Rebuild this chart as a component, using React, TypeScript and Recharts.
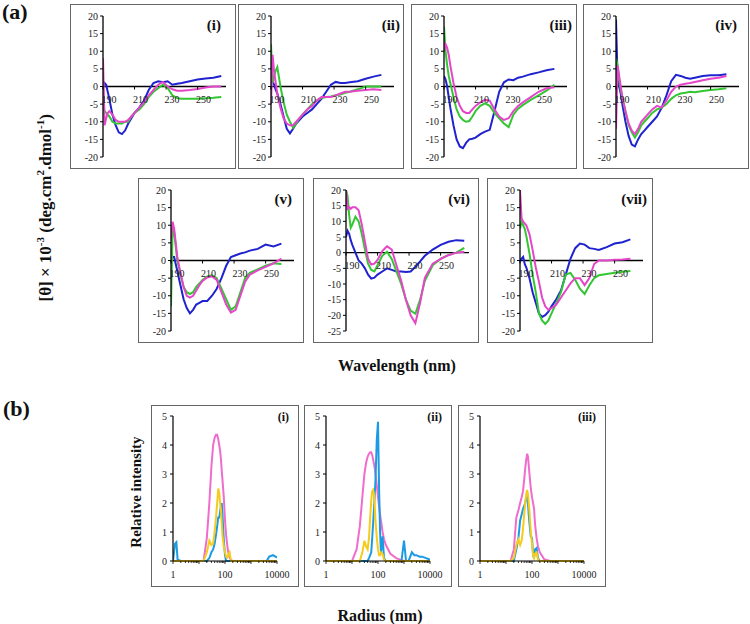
import React from 'react';
import { LineChart, Line, XAxis, YAxis, ReferenceLine } from 'recharts';

const FONT = '"Liberation Serif", "Times New Roman", serif';

// ---------- (a) CD spectra ----------
const wavelengths = [190, 191, 192, 193, 194, 196, 198, 200, 202, 204, 206, 208, 210, 213, 216, 219, 222, 225, 228, 231, 234, 237, 240, 245, 250, 255, 260, 265];
const wavelengthTicks = [190, 210, 230, 250];
const ellipticityTicks = [-20, -15, -10, -5, 0, 5, 10, 15, 20];
const ellipticityTicksDeep = [-25, -20, -15, -10, -5, 0, 5, 10, 15, 20];

const cd1Blue = [0, 1, 0.5, -1.5, -3.5, -8, -11, -13, -13.5, -12.5, -10.5, -9, -7.5, -6, -4, -1, 1, 1.5, 1.2, 1.5, 0.5, 0.8, 1, 1.5, 2, 2.3, 2.5, 3];
const cd1Green = [-4, -7, -7.5, -8, -8.5, -10, -10.5, -10.5, -10.5, -10, -10, -8.5, -7.5, -6.5, -5, -3, -1.5, -0.5, 0.5, -0.5, -2.5, -3.3, -3.5, -3.5, -3.5, -3.3, -3.2, -3];
const cd1Pink = [8, -11, -9, -7.5, -7, -8, -9.5, -10, -10, -10, -9.5, -8.5, -7.5, -6, -4.5, -2.5, -1, 0.5, 1.3, 0, -0.8, -1.2, -1.2, -1, -0.7, -0.3, 0, 0];

const cd2Blue = [2, 1.5, 0.5, -1, -2, -5, -8.5, -12, -13.3, -12, -10.5, -9.5, -8.5, -7.5, -6.5, -5, -3.5, -1.5, 0.5, 1.3, 1, 1, 1.2, 1.5, 2.2, 2.8, 3.3];
const cd2Green = [12, 1, 3, 4.5, 5.5, 0, -4.5, -8, -10, -11.7, -10.5, -9, -8, -6.5, -5, -4, -3.3, -3, -2.8, -2.5, -2.3, -1.8, -1.5, -0.8, 0, 0, 0];
const cd2Pink = [-5, 9, 4, 1, -2, -6, -9, -10.5, -11, -11, -10, -9, -8, -6.5, -5.5, -4, -3, -3, -3, -2.5, -2, -1.5, -1.5, -1.2, -1, -0.8, -1];

const cd3Blue = [3, 2, 0, -3, -6, -11, -15, -17, -17.5, -16, -15, -14.8, -14.5, -13.5, -12.8, -12.3, -7, -1.5, 1.2, 2, 1.8, 2.5, 2.8, 3.5, 4, 4.6, 5];
const cd3Green = [17, 10, 6, 3, 1, -3, -6.5, -8.5, -9.5, -10, -9.8, -8.5, -7, -5.5, -4.8, -5.5, -7.5, -9, -10.5, -11.5, -8, -6.3, -5.3, -3.8, -2.5, -1.2, 0.5];
const cd3Pink = [10, 12, 11, 9, 6, 1, -3, -5.5, -7, -7.5, -7.5, -6.5, -5.5, -4.5, -3.8, -4, -6.5, -8.5, -9.5, -9, -7, -5.5, -4.5, -3, -1.5, -0.5, -0.2];

const cd4Blue = [19, 2, 0, -2, -5, -10, -14, -16.5, -17, -15, -13.5, -12.5, -11.5, -10, -8.5, -6, -2.5, 1.5, 3.3, 3, 2.5, 2.2, 2.5, 3, 3.2, 3.2, 3.5];
const cd4Green = [8, 6, 2, -1, -3, -7, -11, -13, -14.5, -13, -11, -10, -9, -7.5, -6.5, -6, -5, -3.5, -2.5, -2, -1.8, -1.5, -1.6, -1.3, -1, -0.8, -0.5];
const cd4Pink = [-12, 6, 3, 0, -3, -7, -10.5, -12.5, -13.5, -12, -10, -9, -8, -6.5, -5.5, -6, -4, -1.5, 0, 0.5, 0.8, 1, 1.3, 1.8, 2.2, 2.5, 3];

const cd5Blue = [0, 1, 1, -1, -3, -7, -11, -13.5, -15, -14, -12.5, -12, -11.5, -11.5, -10, -8, -5, -1.5, 1, 1.5, 2, 2.3, 2.8, 3.3, 4.5, 4, 4.8];
const cd5Green = [-13, 9, 8, 4, 0, -4, -7.5, -9, -9.5, -9, -7.5, -6.5, -5.5, -4.5, -4.2, -5, -8, -11, -14, -13, -9, -5, -3.5, -2.5, -1.5, -0.8, -1];
const cd5Pink = [6, 11, 9, 5, 1, -3.5, -7.5, -10, -10.5, -10, -8.5, -7, -5.8, -4.8, -4.5, -5.5, -9, -12.5, -14.8, -14, -10, -6, -4, -2.8, -1.8, -0.8, 0.5];

const cd6Blue = [5, 7, 6, 4, 2.5, 0, -2.5, -3.5, -5, -7, -8.3, -8, -7, -6, -5, -5.5, -6, -6, -6.2, -6, -4.5, -2.8, -1, 1, 2.5, 3.5, 4, 3.8];
const cd6Green = [20, 18, 12, 8, 9, 11.5, 10, 6, 1, -3.5, -5.5, -6, -4, -1, 0.3, -2, -6, -10, -15, -18.5, -19.5, -15, -9, -4, -2, -0.7, 0, 1.5];
const cd6Pink = [20, 14, 14.5, 14, 14.5, 14.5, 13.5, 9, 3.5, -2, -3.8, -3.5, -2.3, 0.5, 2, 1, -4, -9, -15, -20, -22.5, -16, -8, -3.5, -2, -0.8, 0, 0.3];

const cd7Blue = [0, 0.5, 1, -1, -2, -5, -9, -12, -15, -16, -15.5, -14.5, -13, -11, -8.5, -4, 0.5, 3.5, 4.8, 4.5, 3.5, 3.3, 3, 3.8, 4.8, 5.2, 6];
const cd7Green = [9, 11, 10, 9, 7, 2, -4, -9, -15, -17, -18, -17, -15, -12, -9, -4, -3.5, -5.5, -8, -9.5, -7, -5, -4.2, -3.8, -3.5, -3.2, -3];
const cd7Pink = [20, 12, 11, 10.5, 10, 7.5, 3, -2, -6, -10.5, -13, -14, -13.5, -12.5, -10.5, -8.5, -6.5, -5, -5, -7, -5, -1, 0, 0, 0.2, 0.3, 0.5];

// ---------- (b) DLS ----------
const radii = [1, 1.2, 1.35, 1.5, 2, 5, 10, 15, 20, 25, 30, 35, 40, 45, 50, 55, 60, 65, 70, 75, 80, 90, 100, 110, 120, 130, 150, 170, 200, 300, 500, 800, 1000, 1200, 1500, 2000, 2500, 3000, 4000, 5000, 7000, 10000];
const radiusLabels = [1, 100, 10000];
const decades = [1, 10, 100, 1000, 10000];
const intensityTicks = [0, 1, 2, 3, 4, 5];

const dls1Blue = [0, 0.6, 0.65, 0.05, 0, 0, 0, 0, 0, 0.1, 0.3, 0.4, 0.6, 0.9, 1.2, 1.5, 1.5, 1.7, 1.9, 2.0, 1.6, 0.7, 0.2, 0, 0, 0, 0, 0, 0, 0, 0, 0, 0, 0, 0, 0, 0, 0, 0, 0.15, 0.2, 0.12];
const dls1Pink = [0, 0, 0, 0, 0, 0, 0, 0, 0.8, 2.0, 3.25, 4.0, 4.25, 4.35, 4.35, 4.2, 4.0, 3.8, 3.5, 3.1, 2.8, 2.2, 1.4, 0.9, 0.6, 0.35, 0.12, 0.03, 0, 0, 0, 0, 0, 0, 0, 0, 0, 0, 0, 0, 0, 0];
const dls1Yellow = [0, 0, 0, 0, 0, 0, 0, 0, 0.3, 0.7, 0.55, 0.6, 1.0, 1.5, 2.0, 2.5, 2.35, 2.0, 1.75, 1.3, 0.9, 0.5, 0.3, 0.15, 0.12, 0.2, 0.3, 0, 0, 0, 0, 0, 0, 0, 0, 0, 0, 0, 0, 0, 0, 0];

const dls2Blue = [0, 0, 0, 0, 0, 0, 0, 0, 0, 0, 0, 0, 0, 0.1, 0.2, 0.3, 0.8, 1.3, 1.8, 2.3, 2.8, 4.2, 4.8, 2.5, 1.0, 0.3, 0.85, 0.1, 0, 0, 0, 0, 0.7, 0, 0, 0.3, 0.2, 0.2, 0.15, 0.15, 0.1, 0.05];
const dls2Pink = [0, 0, 0, 0, 0, 0, 0, 0.4, 1.2, 2.2, 3.0, 3.4, 3.6, 3.7, 3.75, 3.75, 3.65, 3.5, 3.35, 3.2, 3.0, 2.6, 2.2, 1.9, 1.6, 1.4, 1.0, 0.75, 0.55, 0.25, 0.1, 0.03, 0, 0, 0, 0, 0, 0, 0, 0, 0, 0];
const dls2Yellow = [0, 0, 0, 0, 0, 0, 0, 0, 0, 0.3, 0.7, 0.5, 0.4, 0.8, 1.5, 2.1, 2.4, 2.45, 2.3, 1.9, 1.4, 0.8, 0.4, 0.2, 0.2, 0.3, 0.25, 0.05, 0, 0, 0, 0, 0, 0, 0, 0, 0, 0, 0, 0, 0, 0];

const dls3Blue = [0, 0, 0, 0, 0, 0, 0, 0, 0, 0.4, 0.8, 1.4, 1.6, 1.8, 1.9, 2.0, 2.2, 2.3, 2.0, 1.6, 1.3, 0.85, 0.8, 0.2, 0.1, 0.4, 0.45, 0.1, 0, 0, 0, 0, 0, 0, 0, 0, 0, 0, 0, 0, 0, 0];
const dls3Pink = [0, 0, 0, 0, 0, 0, 0, 0, 0.4, 1.5, 1.75, 2.0, 2.2, 2.4, 2.8, 3.2, 3.5, 3.7, 3.6, 3.3, 3.0, 2.5, 2.2, 2.0, 1.8, 1.3, 0.8, 0.5, 0.3, 0.05, 0, 0, 0, 0, 0, 0, 0, 0, 0, 0, 0, 0];
const dls3Yellow = [0, 0, 0, 0, 0, 0, 0, 0, 0.1, 0.55, 0.75, 0.55, 0.7, 1.1, 1.6, 2.0, 2.3, 2.45, 2.3, 2.0, 1.7, 1.0, 0.6, 0.2, 0.1, 0.25, 0.3, 0.05, 0, 0, 0, 0, 0, 0, 0, 0, 0, 0, 0, 0, 0, 0];

const CD_W = 166;
const CD_H = 165;
const CD_XAXIS_H = 12;
const DLS_W = 148;
const DLS_H = 182;

const cdPanels = [
  { label: '(i)', left: 70, top: 4, labelRight: 15, yTicks: ellipticityTicks, blue: cd1Blue, green: cd1Green, pink: cd1Pink },
  { label: '(ii)', left: 238, top: 4, labelRight: 4, yTicks: ellipticityTicks, blue: cd2Blue, green: cd2Green, pink: cd2Pink },
  { label: '(iii)', left: 411, top: 4, labelRight: 5, yTicks: ellipticityTicks, blue: cd3Blue, green: cd3Green, pink: cd3Pink },
  { label: '(iv)', left: 583, top: 4, labelRight: 12, yTicks: ellipticityTicks, blue: cd4Blue, green: cd4Green, pink: cd4Pink },
  { label: '(v)', left: 138, top: 178, labelRight: 12, yTicks: ellipticityTicks, blue: cd5Blue, green: cd5Green, pink: cd5Pink },
  { label: '(vi)', left: 313, top: 178, labelRight: 9, yTicks: ellipticityTicksDeep, blue: cd6Blue, green: cd6Green, pink: cd6Pink },
  { label: '(vii)', left: 487, top: 178, labelRight: 6, yTicks: ellipticityTicks, blue: cd7Blue, green: cd7Green, pink: cd7Pink },
];

const dlsPanels = [
  { label: '(i)', left: 151, top: 405, blue: dls1Blue, pink: dls1Pink, yellow: dls1Yellow },
  { label: '(ii)', left: 304, top: 405, blue: dls2Blue, pink: dls2Pink, yellow: dls2Yellow },
  { label: '(iii)', left: 458, top: 405, blue: dls3Blue, pink: dls3Pink, yellow: dls3Yellow },
];

// log axis minor ticks (1..9 in every decade)
const radiusTicks = decades.flatMap((d) => (d === 10000 ? [d] : [1, 2, 3, 4, 5, 6, 7, 8, 9].map((m) => m * d)));

// x labels sit on the y=0 line, not at the bottom of the plot
const WlTick = (props: any) => {
  const { x, y, payload, zeroUp } = props;
  const y0 = y - zeroUp;
  return (
    <g>
      <line x1={x} x2={x} y1={y0} y2={y0 + 3} stroke="#000" strokeWidth={1} />
      <text x={x + 6} y={y0 + 16} textAnchor="middle" fontSize={10} fill="#222" fontFamily={FONT}>
        {payload.value}
      </text>
    </g>
  );
};

const RadiusTick = (props: any) => {
  const { x, y, payload } = props;
  const v = payload.value;
  const isDecade = decades.includes(v);
  return (
    <g>
      <line x1={x} x2={x} y1={y} y2={y + (isDecade ? 3 : 2)} stroke="#000" strokeWidth={0.8} />
      {radiusLabels.includes(v) && (
        <text x={x} y={y + 17} textAnchor="middle" fontSize={10} fill="#222" fontFamily={FONT}>
          {v}
        </text>
      )}
    </g>
  );
};

const boxStyle = (left: number, top: number, width: number, height: number): React.CSSProperties => ({
  position: 'absolute',
  left,
  top,
  width,
  height,
  boxSizing: 'border-box',
  border: '1.5px solid #666',
  pointerEvents: 'none',
});

function CdPanel({ panel }: { panel: any }) {
  const { yTicks, blue, green, pink } = panel;
  const yMin = yTicks[0];
  const yMax = yTicks[yTicks.length - 1];
  const plotH = CD_H - 12 - CD_XAXIS_H;
  const zeroUp = (plotH * (0 - yMin)) / (yMax - yMin);
  const data = wavelengths.map((w, k) => ({
    w,
    blue: blue[k] ?? null,
    green: green[k] ?? null,
    pink: pink[k] ?? null,
  }));
  return (
    <>
      <div style={{ position: 'absolute', left: panel.left, top: panel.top, width: CD_W, height: CD_H }}>
        <LineChart width={CD_W} height={CD_H} data={data} margin={{ top: 12, right: 10, bottom: 0, left: 5 }}>
          <XAxis
            type="number"
            dataKey="w"
            domain={[190, 268]}
            ticks={wavelengthTicks}
            interval={0}
            height={CD_XAXIS_H}
            axisLine={false}
            tickLine={false}
            tickSize={0}
            tickMargin={0}
            tick={<WlTick zeroUp={zeroUp} />}
            allowDataOverflow
          />
          <YAxis
            type="number"
            domain={[yMin, yMax]}
            ticks={yTicks}
            interval={0}
            width={28}
            tickSize={3}
            tickMargin={2}
            axisLine={{ stroke: '#000', strokeWidth: 1.3 }}
            tickLine={{ stroke: '#000' }}
            tick={{ fontSize: 10, fill: '#222', fontFamily: FONT }}
            allowDataOverflow
          />
          <ReferenceLine y={0} stroke="#000" strokeWidth={1.3} />
          <Line type="linear" dataKey="blue" stroke="#1f22cf" strokeWidth={2} dot={false} isAnimationActive={false} />
          <Line type="linear" dataKey="green" stroke="#33c633" strokeWidth={2} dot={false} isAnimationActive={false} />
          <Line type="linear" dataKey="pink" stroke="#e545c8" strokeWidth={2} dot={false} isAnimationActive={false} />
        </LineChart>
        <div
          style={{
            position: 'absolute',
            right: panel.labelRight,
            top: 12,
            fontSize: 15,
            lineHeight: '18px',
            fontWeight: 'bold',
            color: '#111',
          }}
        >
          {panel.label}
        </div>
      </div>
      <div style={boxStyle(panel.left, panel.top, CD_W, CD_H)} />
    </>
  );
}

function DlsPanel({ panel }: { panel: any }) {
  const data = radii.map((r, k) => ({ r, blue: panel.blue[k], pink: panel.pink[k], yellow: panel.yellow[k] }));
  return (
    <>
      <div style={{ position: 'absolute', left: panel.left, top: panel.top, width: DLS_W, height: DLS_H }}>
        <LineChart width={DLS_W} height={DLS_H} data={data} margin={{ top: 11, right: 22, bottom: 0, left: 2 }}>
          <XAxis
            type="number"
            dataKey="r"
            scale="log"
            domain={[1, 10000]}
            ticks={radiusTicks}
            interval={0}
            height={26}
            tickSize={0}
            tickMargin={0}
            tickLine={false}
            axisLine={{ stroke: '#000', strokeWidth: 1.2 }}
            tick={<RadiusTick />}
            allowDataOverflow
          />
          <YAxis
            type="number"
            domain={[0, 5]}
            ticks={intensityTicks}
            interval={0}
            width={20}
            tickSize={3}
            tickMargin={3}
            axisLine={{ stroke: '#000', strokeWidth: 1.2 }}
            tickLine={{ stroke: '#000' }}
            tick={{ fontSize: 10, fill: '#222', fontFamily: FONT }}
          />
          <Line type="linear" dataKey="pink" stroke="#f06ccd" strokeWidth={2} dot={false} isAnimationActive={false} />
          <Line type="linear" dataKey="blue" stroke="#1c9be3" strokeWidth={2} dot={false} isAnimationActive={false} />
          <Line type="linear" dataKey="yellow" stroke="#f4cc1e" strokeWidth={2} dot={false} isAnimationActive={false} />
        </LineChart>
        <div
          style={{
            position: 'absolute',
            right: 10,
            top: 4,
            fontSize: 12,
            lineHeight: '16px',
            fontWeight: 'bold',
            color: '#111',
          }}
        >
          {panel.label}
        </div>
      </div>
      <div style={boxStyle(panel.left, panel.top, DLS_W, DLS_H)} />
    </>
  );
}

const titleStyle: React.CSSProperties = {
  position: 'absolute',
  fontWeight: 'bold',
  color: '#111',
  whiteSpace: 'nowrap',
  textAlign: 'center',
};

const supStyle: React.CSSProperties = { fontSize: 11 };

export default function App() {
  return (
    <div
      style={{
        position: 'absolute',
        left: 0,
        top: 0,
        width: 750,
        height: 624,
        background: '#fff',
        fontFamily: FONT,
        overflow: 'hidden',
      }}
    >
      <div style={{ ...titleStyle, left: 2, top: -1, fontSize: 22, lineHeight: '26px' }}>(a)</div>
      <div style={{ ...titleStyle, left: 3, top: 396, fontSize: 22, lineHeight: '26px' }}>(b)</div>

      {cdPanels.map((p) => (
        <CdPanel key={p.label} panel={p} />
      ))}

      <div
        style={{
          ...titleStyle,
          left: 43 - 160,
          top: 205 - 11,
          width: 320,
          fontSize: 17,
          lineHeight: '22px',
          transform: 'rotate(-90deg)',
        }}
      >
        [θ] × 10<sup style={supStyle}>-3</sup> (deg.cm<sup style={supStyle}>2</sup>.dmol<sup style={supStyle}>-1</sup>)
      </div>
      <div style={{ ...titleStyle, left: 397 - 100, top: 356, width: 200, fontSize: 16, lineHeight: '20px' }}>
        Wavelength (nm)
      </div>

      {dlsPanels.map((p) => (
        <DlsPanel key={p.label} panel={p} />
      ))}

      <div
        style={{
          ...titleStyle,
          left: 136 - 100,
          top: 492 - 10,
          width: 200,
          fontSize: 15,
          lineHeight: '20px',
          transform: 'rotate(-90deg)',
        }}
      >
        Relative intensity
      </div>
      <div style={{ ...titleStyle, left: 380 - 100, top: 606, width: 200, fontSize: 16, lineHeight: '20px' }}>
        Radius (nm)
      </div>
    </div>
  );
}
